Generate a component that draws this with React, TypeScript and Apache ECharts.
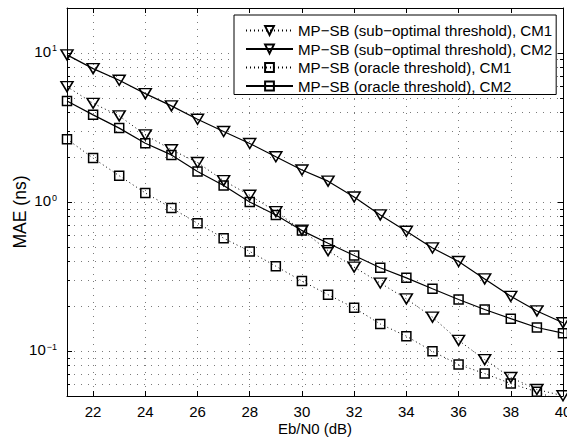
import React, { useEffect, useRef } from "react";
import * as echarts from "echarts";

const FONT = '"Liberation Sans", Arial, Helvetica, sans-serif';

const ebN0 = [21, 22, 23, 24, 25, 26, 27, 28, 29, 30, 31, 32, 33, 34, 35, 36, 37, 38, 39, 40];

const subOptCM1 = [5.94, 4.59, 3.78, 2.82, 2.24, 1.84, 1.39, 1.11, 0.862, 0.648, 0.472, 0.366, 0.286, 0.224, 0.169, 0.118, 0.0877, 0.0665, 0.0553, 0.0502];
const subOptCM2 = [9.7, 7.84, 6.55, 5.33, 4.41, 3.59, 2.97, 2.47, 2.01, 1.64, 1.38, 1.08, 0.819, 0.637, 0.492, 0.399, 0.305, 0.233, 0.186, 0.155];
const oracleCM1 = [2.64, 1.97, 1.5, 1.15, 0.912, 0.72, 0.572, 0.466, 0.371, 0.295, 0.239, 0.195, 0.152, 0.126, 0.0997, 0.0813, 0.0707, 0.0606, 0.0533, 0.046];
const oracleCM2 = [4.76, 3.84, 3.13, 2.48, 2.07, 1.6, 1.29, 1.0, 0.819, 0.643, 0.529, 0.438, 0.362, 0.31, 0.262, 0.222, 0.19, 0.165, 0.144, 0.132];

const seriesNames = [
  "MP\u2212SB (sub\u2212optimal threshold), CM1",
  "MP\u2212SB (sub\u2212optimal threshold), CM2",
  "MP\u2212SB (oracle threshold), CM1",
  "MP\u2212SB (oracle threshold), CM2",
];

const xTickLabels = [22, 24, 26, 28, 30, 32, 34, 36, 38, 40];
const yTickExponents = [-1, 0, 1];

const xName = "Eb/N0 (dB)";
const yName = "MAE (ns)";

const GRID_LINE = { color: "#7a7a7a", type: [1, 6] as number[], width: 1 };
const AXIS_LINE = { color: "#000", width: 1 };

function yLabel(v: number): string {
  const l = Math.log10(v);
  const e = Math.round(l);
  if (Math.abs(l - e) > 1e-6 || !yTickExponents.includes(e)) return "";
  const sup = e < 0 ? "\u2212" + -e : String(e);
  return `{b|10}{s|${sup}}`;
}

export default function App() {
  const ref = useRef<HTMLDivElement>(null);
  useEffect(() => {
    if (!ref.current) return;
    const chart = echarts.init(ref.current, undefined, { renderer: "svg" });

    const makeSeries = (name: string, vals: number[], dotted: boolean, tri: boolean) => ({
      name,
      type: "line",
      data: ebN0.map((x, i) => [x, vals[i]]),
      symbol: tri ? "triangle" : "rect",
      symbolRotate: tri ? 180 : 0,
      symbolSize: tri ? [12, 10] : [9, 9],
      showSymbol: true,
      clip: true,
      lineStyle: { color: "#000", width: dotted ? 1 : 1.2, type: dotted ? [1, 3] : "solid" },
      itemStyle: { color: "rgba(0,0,0,0)", borderColor: "#000", borderWidth: 1.5 },
      emphasis: { disabled: true },
      z: 3,
    });

    chart.setOption({
      animation: false,
      backgroundColor: "#fff",
      textStyle: { fontFamily: FONT, color: "#000" },
      grid: { left: 67, right: 4, top: 8, bottom: 45, containLabel: false, outerBoundsMode: "none" },
      legend: {
        show: true,
        orient: "vertical",
        left: 234,
        top: 15,
        itemWidth: 47,
        itemHeight: 11,
        itemGap: 3.5,
        padding: [8, 4, 1, 11],
        backgroundColor: "#fff",
        borderColor: "#000",
        borderWidth: 1,
        borderRadius: 0,
        selectedMode: false,
        textStyle: { fontSize: 15.1, color: "#000", fontFamily: FONT },
        data: seriesNames,
      },
      xAxis: [
        {
          type: "value",
          min: 21,
          max: 40,
          minInterval: 2,
          maxInterval: 2,
          position: "bottom",
          name: xName,
          nameLocation: "middle",
          nameGap: 25,
          nameMoveOverlap: false,
          nameTextStyle: { fontSize: 15, color: "#000", fontFamily: FONT },
          axisLine: { show: true, onZero: false, lineStyle: AXIS_LINE },
          axisTick: { show: true, inside: true, length: 5, lineStyle: AXIS_LINE },
          axisLabel: {
            show: true,
            fontSize: 15,
            color: "#000",
            margin: 8,
            fontFamily: FONT,
            hideOverlap: false,
            formatter: (v: number) => (xTickLabels.includes(v) ? String(v) : ""),
          },
          splitLine: { show: true, lineStyle: GRID_LINE },
        },
        {
          type: "value",
          min: 21,
          max: 40,
          minInterval: 2,
          maxInterval: 2,
          position: "top",
          axisLine: { show: true, onZero: false, lineStyle: AXIS_LINE },
          axisTick: { show: true, inside: true, length: 5, lineStyle: AXIS_LINE },
          axisLabel: { show: false },
          splitLine: { show: false },
        },
      ],
      yAxis: [
        {
          type: "log",
          logBase: 10,
          min: 0.05,
          max: 20,
          position: "left",
          name: yName,
          nameLocation: "middle",
          nameGap: 38,
          nameMoveOverlap: false,
          nameTextStyle: { fontSize: 17.5, color: "#000", fontFamily: FONT, padding: [0, 20, 0, 0] },
          axisLine: { show: true, onZero: false, lineStyle: AXIS_LINE },
          axisTick: { show: true, inside: true, length: 5, lineStyle: AXIS_LINE },
          minorTick: { show: true, splitNumber: 9, length: 3, lineStyle: AXIS_LINE },
          axisLabel: {
            show: true,
            margin: 10,
            fontFamily: FONT,
            formatter: yLabel,
            padding: [0, 0, 3, 0],
            rich: {
              b: { fontSize: 15, color: "#000", fontFamily: FONT, verticalAlign: "bottom", lineHeight: 15 },
              s: { fontSize: 9, color: "#000", fontFamily: FONT, verticalAlign: "top", lineHeight: 9, padding: [0, 0, 9, 1] },
            },
          },
          splitLine: { show: true, lineStyle: GRID_LINE },
          minorSplitLine: { show: true, lineStyle: GRID_LINE },
        },
        {
          type: "log",
          logBase: 10,
          min: 0.05,
          max: 20,
          position: "right",
          axisLine: { show: true, onZero: false, lineStyle: AXIS_LINE },
          axisTick: { show: true, inside: true, length: 5, lineStyle: AXIS_LINE },
          minorTick: { show: true, splitNumber: 9, length: 3, lineStyle: AXIS_LINE },
          axisLabel: { show: false },
          splitLine: { show: false },
        },
      ],
      series: [
        makeSeries(seriesNames[0], subOptCM1, true, true),
        makeSeries(seriesNames[1], subOptCM2, false, true),
        makeSeries(seriesNames[2], oracleCM1, true, false),
        makeSeries(seriesNames[3], oracleCM2, false, false),
      ],
    });

    return () => chart.dispose();
  }, []);

  return (
    <div
      ref={ref}
      style={{ position: "fixed", left: 0, top: 0, width: 567, height: 441, background: "#fff" }}
    />
  );
}
